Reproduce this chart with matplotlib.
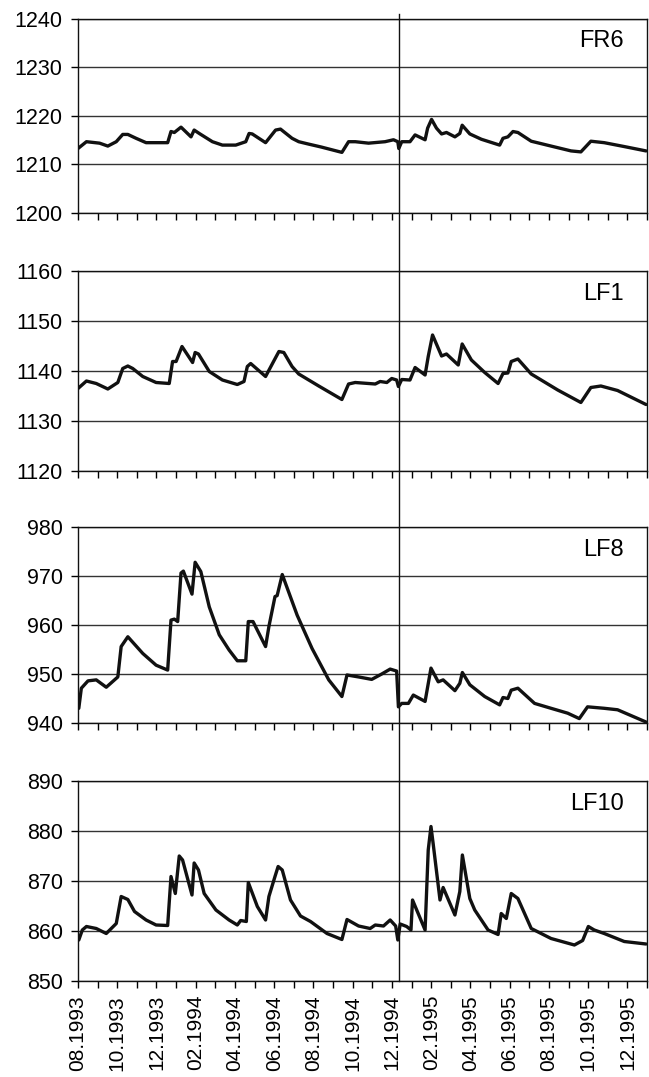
import matplotlib
matplotlib.use("Agg")
import matplotlib.pyplot as plt
from matplotlib.lines import Line2D
from matplotlib import transforms

plt.rcParams['font.family'] = ['Liberation Sans', 'DejaVu Sans']
plt.rcParams['font.size'] = 15.5

# x values: months since 08.1993
fr6_x = [0, 0.43, 1.1, 1.52, 1.95, 2.28, 2.54, 2.96, 3.47, 4.57, 4.74, 4.91, 5.25, 5.76, 5.92, 6.18,
         6.85, 7.36, 8.04, 8.55, 8.72, 8.88, 9.56, 10.07, 10.32, 10.91, 11.25, 11.76, 12.4, 13.45,
         13.79, 14.13, 14.81, 15.65, 16.08, 16.3, 16.35, 16.5, 16.92, 17.18, 17.69, 17.82, 18.02,
         18.27, 18.53, 18.78, 19.21, 19.46, 19.58, 19.97, 20.56, 21.49, 21.66, 21.91, 22.17, 22.42,
         23.1, 24.11, 25.13, 25.63, 26.14, 26.82, 27.84, 28.95]
fr6_y = [1213.3, 1214.7, 1214.4, 1213.8, 1214.7, 1216.2, 1216.2, 1215.4, 1214.5, 1214.5, 1216.8,
         1216.6, 1217.7, 1215.7, 1217.1, 1216.4, 1214.7, 1214.0, 1214.0, 1214.7, 1216.4, 1216.3,
         1214.5, 1217.1, 1217.3, 1215.4, 1214.7, 1214.2, 1213.6, 1212.5, 1214.7, 1214.7, 1214.4,
         1214.7, 1215.1, 1214.7, 1213.3, 1214.7, 1214.7, 1216.1, 1215.1, 1217.5, 1219.3, 1217.5,
         1216.3, 1216.6, 1215.7, 1216.4, 1218.1, 1216.3, 1215.2, 1214.0, 1215.4, 1215.7, 1216.8,
         1216.6, 1214.8, 1213.8, 1212.8, 1212.6, 1214.8, 1214.5, 1213.7, 1212.8]

lf1_x = [0, 0.43, 0.93, 1.52, 2.03, 2.28, 2.54, 2.79, 3.3, 3.98, 4.65, 4.82, 5.0, 5.3, 5.84, 5.97,
         6.14, 6.69, 7.36, 8.12, 8.46, 8.63, 8.8, 9.56, 9.98, 10.24, 10.49, 10.91, 11.25, 12.27,
         13.45, 13.79, 14.13, 15.15, 15.4, 15.74, 15.99, 16.24, 16.33, 16.5, 16.92, 17.18, 17.69,
         17.85, 18.07, 18.53, 18.78, 19.38, 19.58, 20.05, 20.73, 21.41, 21.66, 21.91, 22.08, 22.42,
         23.1, 24.45, 25.63, 26.14, 26.65, 27.5, 28.95]
lf1_y = [1136.5, 1138.0, 1137.5, 1136.4, 1137.7, 1140.5, 1141.0, 1140.5, 1138.9, 1137.7, 1137.5,
         1141.9, 1141.9, 1144.9, 1141.7, 1143.7, 1143.4, 1139.9, 1138.2, 1137.3, 1137.9, 1140.9,
         1141.5, 1138.9, 1142.0, 1143.9, 1143.7, 1140.9, 1139.4, 1137.0, 1134.3, 1137.4, 1137.7,
         1137.4, 1137.9, 1137.7, 1138.5, 1138.2, 1136.9, 1138.3, 1138.2, 1140.7, 1139.2, 1142.9,
         1147.2, 1143.0, 1143.4, 1141.2, 1145.4, 1142.2, 1139.7, 1137.5, 1139.5, 1139.6, 1141.9,
         1142.4, 1139.4, 1136.2, 1133.7, 1136.7, 1137.0, 1136.1, 1133.3]

lf8_x = [0.04, 0.17, 0.51, 0.93, 1.44, 2.03, 2.2, 2.54, 3.3, 3.98, 4.57, 4.74, 4.91, 5.08, 5.25,
         5.37, 5.81, 5.97, 6.26, 6.69, 7.2, 7.7, 8.12, 8.55, 8.68, 8.92, 9.56, 9.73, 10.04, 10.15,
         10.41, 11.17, 11.93, 12.78, 13.45, 13.71, 14.3, 14.97, 15.48, 15.91, 16.24, 16.33, 16.5,
         16.84, 17.09, 17.69, 17.99, 18.36, 18.61, 19.21, 19.46, 19.59, 19.97, 20.73, 21.49, 21.66,
         21.91, 22.08, 22.42, 23.27, 24.11, 24.96, 25.55, 25.97, 26.82, 27.5, 28.95]
lf8_y = [943.0, 947.1, 948.6, 948.8, 947.3, 949.4, 955.6, 957.6, 954.2, 951.8, 950.8, 961.0, 961.2,
         960.7, 970.6, 971.0, 966.3, 972.8, 970.9, 963.7, 958.0, 954.9, 952.7, 952.7, 960.7, 960.7,
         955.6, 959.7, 965.8, 966.0, 970.3, 962.0, 955.2, 948.8, 945.4, 949.8, 949.4, 948.9, 950.0,
         951.0, 950.6, 943.3, 944.0, 944.0, 945.7, 944.4, 951.2, 948.4, 948.8, 946.6, 948.1, 950.3,
         947.8, 945.4, 943.7, 945.2, 945.0, 946.7, 947.1, 944.0, 943.0, 942.0, 940.9, 943.3, 943.0,
         942.7, 940.2]

lf10_x = [0.04, 0.22, 0.43, 0.93, 1.44, 1.95, 2.2, 2.54, 2.88, 3.47, 3.98, 4.57, 4.74, 4.96, 5.16,
          5.33, 5.81, 5.92, 6.14, 6.43, 7.03, 7.7, 8.12, 8.29, 8.58, 8.68, 9.14, 9.56, 9.73, 10.04,
          10.2, 10.41, 10.83, 11.34, 11.85, 12.69, 13.45, 13.71, 14.3, 14.89, 15.15, 15.57, 15.91,
          16.19, 16.3, 16.42, 16.75, 16.97, 17.05, 17.69, 17.85, 17.99, 18.1, 18.45, 18.61, 19.21,
          19.46, 19.59, 19.97, 20.22, 20.9, 21.41, 21.57, 21.83, 22.08, 22.42, 23.1, 24.11, 25.3,
          25.72, 26.01, 26.31, 26.82, 27.84, 28.95]
lf10_y = [858.2, 860.2, 860.9, 860.5, 859.5, 861.5, 866.9, 866.3, 863.9, 862.2, 861.2, 861.1, 870.9,
          867.5, 875.0, 874.2, 867.2, 873.6, 872.2, 867.5, 864.2, 862.2, 861.2, 862.1, 861.9, 869.7,
          864.9, 862.2, 866.9, 870.9, 872.9, 872.2, 866.2, 863.0, 861.9, 859.5, 858.3, 862.3, 861.0,
          860.5, 861.2, 861.0, 862.2, 861.0, 858.2, 861.4, 860.9, 860.2, 866.2, 860.2, 876.2, 880.9,
          877.5, 866.2, 868.7, 863.2, 867.9, 875.2, 866.5, 864.2, 860.2, 859.3, 863.5, 862.5, 867.5,
          866.5, 860.5, 858.5, 857.2, 858.1, 860.9, 860.2, 859.5, 857.9, 857.4]

names = ['FR6', 'LF1', 'LF8', 'LF10']
ylims = [(1200, 1240), (1120, 1160), (940, 980), (850, 890)]
xs = [fr6_x, lf1_x, lf8_x, lf10_x]
ys = [fr6_y, lf1_y, lf8_y, lf10_y]

tick_months = list(range(0, 29, 2))
tick_labels = ['08.1993', '10.1993', '12.1993', '02.1994', '04.1994', '06.1994', '08.1994',
               '10.1994', '12.1994', '02.1995', '04.1995', '06.1995', '08.1995', '10.1995',
               '12.1995']
split_month = 16.37

# panel boxes in pixels (top, bottom) for a 649x1077 figure
boxes = [(19, 213), (271, 471), (527, 723), (781, 981)]
W, H = 649, 1077
left, right = 78, 647

fig = plt.figure(figsize=(W / 100, H / 100), dpi=100)
axes = []
for i, (top, bot) in enumerate(boxes):
    ax = fig.add_axes([left / W, 1 - bot / H, (right - left) / W, (bot - top) / H])
    ax.plot(xs[i], ys[i], color='#111111', lw=2.4, solid_joinstyle='round', solid_capstyle='round')
    ax.set_xlim(0, 29)
    ax.set_ylim(*ylims[i])
    lo, hi = ylims[i]
    ax.set_yticks(range(lo, hi + 1, 10))
    ax.set_xticks(range(0, 30), minor=True)
    ax.set_xticks(tick_months)
    ax.tick_params(axis='y', length=5, width=1, pad=6)
    ax.tick_params(axis='x', which='both', length=5, width=1, direction='out', pad=5)
    if i < 3:
        ax.set_xticklabels([])
    else:
        ax.set_xticklabels(tick_labels, rotation=90, fontsize=15)
    ax.yaxis.grid(True, color='#333333', lw=1)
    ax.set_axisbelow(True)
    for s in ax.spines.values():
        s.set_linewidth(1)
        s.set_color('#111111')
    ax.text(0.96, 0.885, names[i], transform=ax.transAxes, ha='right', va='center', fontsize=17)
    axes.append(ax)

# vertical separator through all panels
trans = transforms.blended_transform_factory(axes[-1].transData, fig.transFigure)
fig.add_artist(Line2D([split_month, split_month], [1 - 14 / H, 1 - 981 / H],
                      transform=trans, color='#111111', lw=1))

fig.savefig('out.png', dpi=100)
